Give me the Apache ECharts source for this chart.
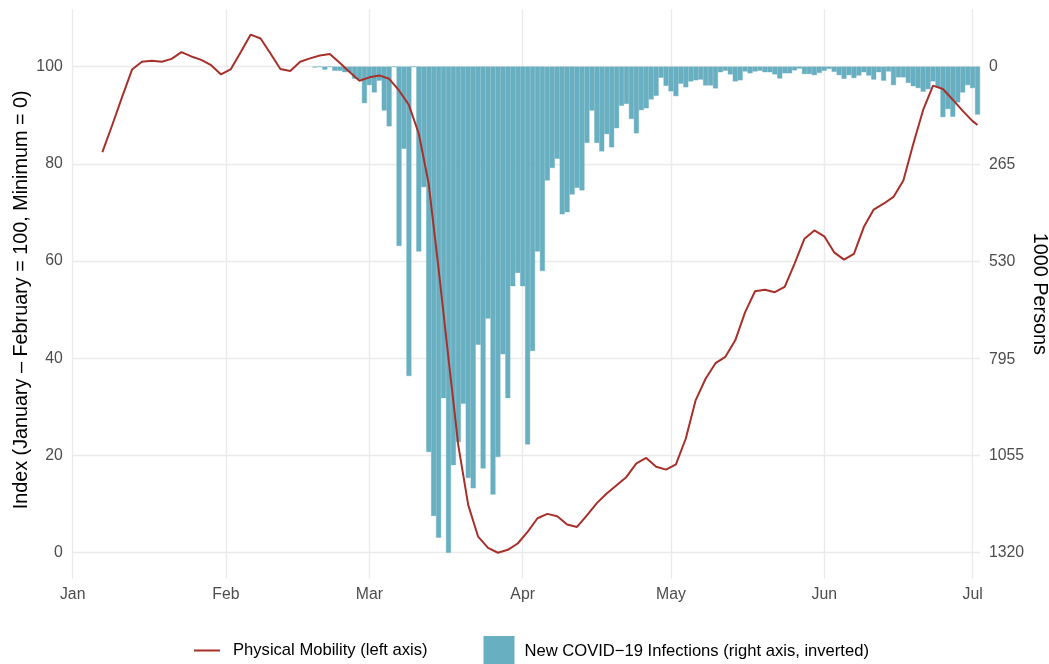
<!DOCTYPE html>
<html>
<head>
<meta charset="utf-8">
<script src="https://cdn.jsdelivr.net/npm/echarts@6/dist/echarts.min.js"></script>
<style>
html,body{margin:0;padding:0;background:#ffffff;}
#chart{width:1049px;height:664px;}
</style>
</head>
<body>
<div id="chart"></div>
<script>
// Day offsets counted from 1 January 2020 (day 0)
const monthLabels = ['Jan', 'Feb', 'Mar', 'Apr', 'May', 'Jun', 'Jul'];
const monthStartDays = [0, 31, 60, 91, 121, 152, 182];

const leftTicks = [0, 20, 40, 60, 80, 100];
const rightTicks = [0, 265, 530, 795, 1055, 1320];

const mobilityName = 'Physical Mobility (left axis)';
const infectionName = 'New COVID\u221219 Infections (right axis, inverted)';

const mobilityDays = [
  6, 8, 10, 12, 14, 16, 18, 20, 22, 24, 26, 28, 30, 32, 34, 36, 38, 40, 42, 44,
  46, 48, 50, 52, 54, 56, 58, 60, 62, 64, 66, 68, 70, 72, 74, 76, 78, 80, 82, 84,
  86, 88, 90, 92, 94, 96, 98, 100, 102, 104, 106, 108, 110, 112, 114, 116, 118, 120, 122, 124,
  126, 128, 130, 132, 134, 136, 138, 140, 142, 144, 146, 148, 150, 152, 154, 156, 158, 160, 162, 164,
  166, 168, 170, 172, 174, 176, 178, 180, 182, 183
];
const mobilityValues = [
  82.4, 88.0, 93.8, 99.4, 101.0, 101.2, 101.0, 101.6, 103.0, 102.1, 101.4, 100.3, 98.4, 99.5, 103.0, 106.6, 105.8, 102.7, 99.5, 99.1,
  101.0, 101.7, 102.3, 102.6, 100.8, 98.9, 97.1, 97.8, 98.2, 97.5, 95.1, 92.1, 86.2, 75.9, 58.4, 40.0, 22.0, 9.8, 3.3, 1.0,
  0.0, 0.6, 1.9, 4.3, 7.1, 8.0, 7.5, 5.8, 5.3, 7.7, 10.2, 12.2, 13.9, 15.6, 18.4, 19.5, 17.7, 17.1, 18.2, 23.5,
  31.4, 35.8, 39.0, 40.3, 43.7, 49.5, 53.8, 54.1, 53.6, 54.7, 59.5, 64.6, 66.3, 65.1, 61.8, 60.3, 61.5, 67.0, 70.6, 71.8,
  73.2, 76.6, 84.1, 91.1, 96.1, 95.4, 93.2, 90.9, 88.8, 88.0
];

// Daily new infections (1000 persons), starting at day 49 (19 Feb 2020)
const infectionFirstDay = 49;
const infectionValues = [
  2, 0, 8, 0, 11, 11, 15, 15, 33, 35,
  99, 50, 70, 38, 119, 162, 0, 487, 223, 840,
  0, 502, 327, 1046, 1220, 1279, 900, 1320, 1082, 1019,
  915, 1117, 1145, 755, 1091, 684, 1162, 1060, 781, 900,
  596, 560, 596, 1026, 772, 502, 555, 309, 275, 250,
  401, 395, 347, 329, 336, 207, 119, 207, 230, 183,
  219, 167, 106, 101, 142, 181, 118, 113, 89, 79,
  30, 52, 67, 80, 46, 56, 40, 37, 35, 51,
  51, 59, 15, 11, 21, 40, 37, 13, 18, 13,
  11, 15, 15, 21, 32, 18, 18, 10, 5, 20,
  20, 23, 17, 11, 6, 14, 23, 33, 23, 31,
  24, 15, 24, 35, 15, 38, 13, 50, 29, 29,
  44, 53, 58, 68, 61, 40, 56, 137, 115, 136,
  97, 70, 50, 58, 130
];

// Axis ranges: left index scale, right scale = (100 - index) * 13.2, inverted
const leftMin = -5.3, leftMax = 111.8;
const rightPerIndex = 13.2;
const rightMin = (100 - leftMax) * rightPerIndex;
const rightMax = (100 - leftMin) * rightPerIndex;

const mobilityData = mobilityDays.map((d, i) => [d, mobilityValues[i]]);
const infectionData = infectionValues.map((v, i) => [infectionFirstDay + i, v]);

const FONT = '"Liberation Sans", Arial, Helvetica, sans-serif';
const RED = '#A8302B';
const BLUE = '#68AFC1';
const GRID = '#EBEBEB';

const chart = echarts.init(document.getElementById('chart'), null, {renderer: 'canvas'});
chart.setOption({
  animation: false,
  backgroundColor: '#ffffff',
  textStyle: {fontFamily: FONT},
  grid: {left: 72.7, right: 69, top: 9.3, bottom: 85.5, containLabel: false, outerBoundsMode: 'none'},
  legend: [
    {
      data: [{name: mobilityName, icon: 'rect'}],
      left: 194, top: 642, padding: 0,
      itemWidth: 26, itemHeight: 2,
      textStyle: {fontFamily: FONT, fontSize: 16.6, color: '#000000', padding: [0, 0, 0, 8]},
      selectedMode: false
    },
    {
      data: [{name: infectionName, icon: 'rect'}],
      left: 483.5, top: 636, padding: 0,
      itemWidth: 29, itemHeight: 28,
      textStyle: {fontFamily: FONT, fontSize: 16.6, color: '#000000', padding: [0, 0, 0, 6]},
      selectedMode: false
    }
  ],
  xAxis: {
    type: 'value',
    min: 0,
    max: 183.5,
    axisLine: {show: false},
    axisTick: {show: false, customValues: monthStartDays},
    splitLine: {show: true, lineStyle: {color: GRID, width: 1.4}},
    axisLabel: {
      customValues: monthStartDays,
      formatter: v => monthLabels[monthStartDays.indexOf(v)],
      color: '#4D4D4D', fontFamily: FONT, fontSize: 15.8, margin: 8
    }
  },
  yAxis: [
    {
      type: 'value',
      position: 'left',
      min: leftMin,
      max: leftMax,
      name: 'Index (January \u2013 February = 100, Minimum = 0)',
      nameLocation: 'middle',
      nameRotate: 90,
      nameGap: 41,
      nameMoveOverlap: false,
      nameTextStyle: {color: '#000000', fontFamily: FONT, fontSize: 19.8, padding: [0, 12, 0, 0]},
      axisLine: {show: false},
      axisTick: {show: false, customValues: leftTicks},
      splitLine: {show: true, lineStyle: {color: GRID, width: 1.4}},
      axisLabel: {customValues: leftTicks, formatter: v => String(v), color: '#4D4D4D', fontFamily: FONT, fontSize: 15.8, margin: 10}
    },
    {
      type: 'value',
      position: 'right',
      inverse: true,
      min: rightMin,
      max: rightMax,
      name: '1000 Persons',
      nameLocation: 'middle',
      nameRotate: -90,
      nameGap: 49,
      nameMoveOverlap: false,
      nameTextStyle: {color: '#000000', fontFamily: FONT, fontSize: 19.8},
      axisLine: {show: false},
      axisTick: {show: false, customValues: rightTicks},
      splitLine: {show: false},
      axisLabel: {customValues: rightTicks, formatter: v => String(v), color: '#4D4D4D', fontFamily: FONT, fontSize: 15.8, margin: 9}
    }
  ],
  series: [
    {
      name: infectionName,
      type: 'bar',
      xAxisIndex: 0,
      yAxisIndex: 1,
      data: infectionData,
      barWidth: '100%',
      itemStyle: {color: BLUE, borderColor: BLUE, borderWidth: 0.4},
      z: 2
    },
    {
      name: mobilityName,
      type: 'line',
      xAxisIndex: 0,
      yAxisIndex: 0,
      data: mobilityData,
      showSymbol: false,
      symbol: 'none',
      color: RED,
      itemStyle: {color: RED},
      lineStyle: {color: RED, width: 2},
      z: 3
    }
  ]
});
</script>
</body>
</html>
